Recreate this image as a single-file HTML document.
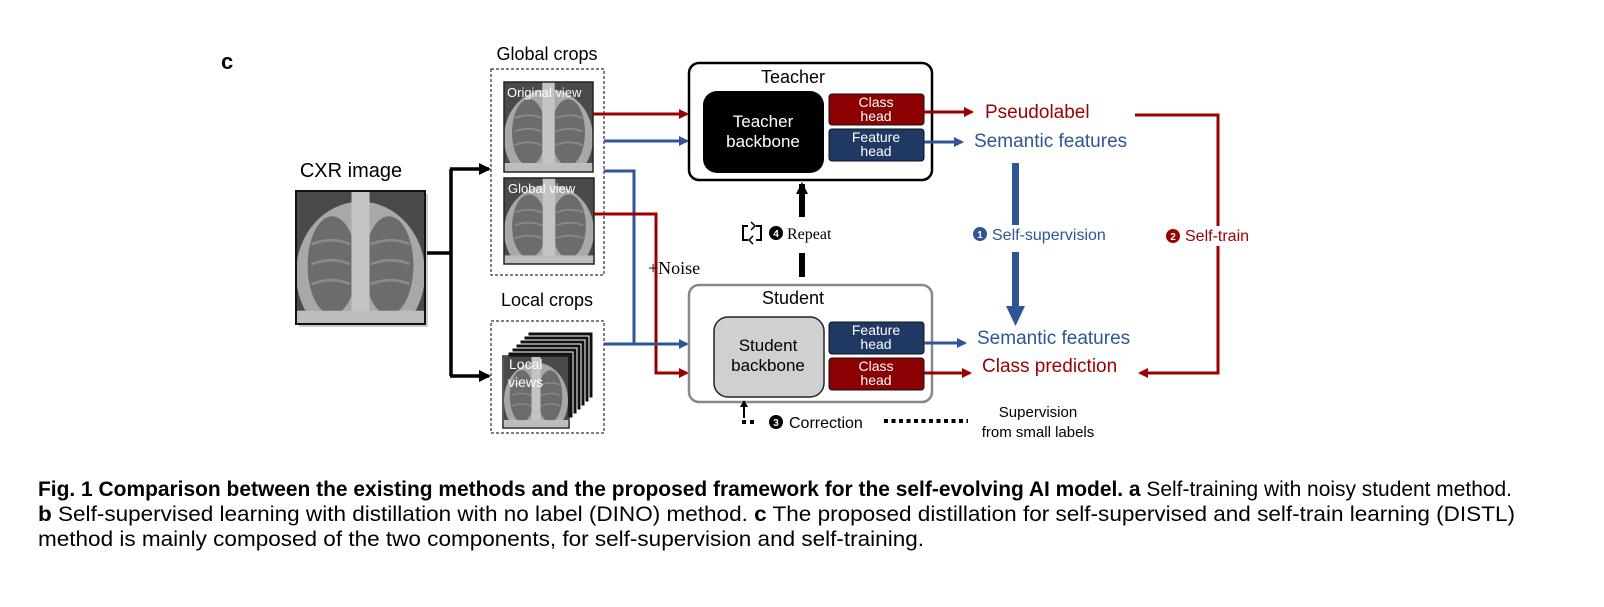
<!DOCTYPE html>
<html><head><meta charset="utf-8"><style>
html,body{margin:0;padding:0;background:#fff;}
svg{display:block;}
text{font-family:"Liberation Sans",sans-serif;}
</style></head><body>
<svg width="1604" height="607" viewBox="0 0 1604 607" xmlns="http://www.w3.org/2000/svg">
<defs>
<symbol id="xr" viewBox="0 0 100 100" preserveAspectRatio="none">
<rect width="100" height="100" fill="#4a4a4a"/>
<ellipse cx="50" cy="62" rx="50" ry="54" fill="#a8a8a8"/>
<ellipse cx="28" cy="56" rx="19" ry="37" fill="#6c6c6c"/>
<ellipse cx="72" cy="56" rx="19" ry="37" fill="#6c6c6c"/>
<g stroke="#8a8a8a" stroke-width="2" fill="none">
<path d="M12,40 q16,-6 30,0 M12,55 q16,-6 30,0 M12,70 q16,-6 30,0 M58,40 q16,-6 30,0 M58,55 q16,-6 30,0 M58,70 q16,-6 30,0"/>
</g>
<rect x="43" y="0" width="14" height="100" fill="#c4c4c4"/>
<rect x="0" y="90" width="100" height="10" fill="#bdbdbd"/>
</symbol>
<marker id="ar" markerWidth="10" markerHeight="10" refX="8" refY="5" orient="auto" markerUnits="userSpaceOnUse"><path d="M0,0 L10,5 L0,10z" fill="#9b0000"/></marker>
<marker id="ab" markerWidth="10" markerHeight="10" refX="8" refY="5" orient="auto" markerUnits="userSpaceOnUse"><path d="M0,0 L10,5 L0,10z" fill="#2f5597"/></marker>
<marker id="ak" markerWidth="12" markerHeight="12" refX="10" refY="6" orient="auto" markerUnits="userSpaceOnUse"><path d="M0,0 L12,6 L0,12z" fill="#000"/></marker>
</defs>

<text x="221" y="69" font-size="22" font-weight="bold">c</text>

<!-- CXR -->
<text x="351" y="177" font-size="20" text-anchor="middle">CXR image</text>
<rect x="299" y="194" width="129" height="133" fill="#ccc"/>
<use href="#xr" x="296" y="191" width="129" height="133"/>
<rect x="296" y="191" width="129" height="133" fill="none" stroke="#111" stroke-width="2"/>

<!-- black connectors -->
<path d="M427,253 H451 M451,169 V376" stroke="#000" stroke-width="3.5" fill="none"/>
<line x1="450" y1="169" x2="489" y2="169" stroke="#000" stroke-width="3.5" marker-end="url(#ak)"/>
<line x1="450" y1="376" x2="489" y2="376" stroke="#000" stroke-width="3.5" marker-end="url(#ak)"/>

<!-- Global crops -->
<text x="547" y="60" font-size="18" text-anchor="middle">Global crops</text>
<rect x="491" y="69" width="113" height="206" fill="none" stroke="#000" stroke-dasharray="3,2"/>
<use href="#xr" x="504" y="82" width="89" height="90"/>
<rect x="504" y="82" width="89" height="90" fill="none" stroke="#222" stroke-width="1.5"/>
<text x="507" y="97" font-size="13" fill="#fff">Original view</text>
<use href="#xr" x="504" y="178" width="90" height="86"/>
<rect x="504" y="178" width="90" height="86" fill="none" stroke="#222" stroke-width="1.5"/>
<text x="508" y="193" font-size="13" fill="#fff">Global view</text>

<!-- Local crops -->
<text x="547" y="306" font-size="18" text-anchor="middle">Local crops</text>
<rect x="491" y="321" width="113" height="112" fill="none" stroke="#000" stroke-dasharray="3,2"/>
<g stroke="#fff" stroke-width="1">
<rect x="528" y="332" width="65" height="66" fill="#111"/>
<rect x="524" y="336" width="65" height="66" fill="#111"/>
<rect x="520" y="340" width="65" height="66" fill="#111"/>
<rect x="516" y="344" width="65" height="66" fill="#111"/>
<rect x="512" y="348" width="65" height="66" fill="#111"/>
<rect x="508" y="352" width="65" height="66" fill="#111"/>
</g>
<use href="#xr" x="504" y="357" width="64" height="70"/>
<rect x="503" y="356" width="66" height="72" fill="none" stroke="#222" stroke-width="1.5"/>
<text x="509" y="369" font-size="14" fill="#fff">Local</text>
<text x="508" y="387" font-size="14" fill="#fff">views</text>

<!-- colored connectors left -->
<line x1="593" y1="114" x2="687" y2="114" stroke="#9b0000" stroke-width="3" marker-end="url(#ar)"/>
<line x1="604" y1="141" x2="687" y2="141" stroke="#2f5597" stroke-width="3" marker-end="url(#ab)"/>
<path d="M604,171 H634 V344" stroke="#2f5597" stroke-width="3" fill="none"/>
<path d="M594,214 H656 V373 H687" stroke="#9b0000" stroke-width="3" fill="none" marker-end="url(#ar)"/>
<line x1="604" y1="344" x2="687" y2="344" stroke="#2f5597" stroke-width="3" marker-end="url(#ab)"/>
<text x="648" y="274" font-size="18" style="font-family:'Liberation Serif',serif">+Noise</text>

<!-- Teacher -->
<rect x="689" y="63" width="243" height="117" rx="10" fill="#fff" stroke="#000" stroke-width="2.5"/>
<text x="793" y="83" font-size="18" text-anchor="middle">Teacher</text>
<rect x="703" y="91" width="121" height="82" rx="14" fill="#000"/>
<text x="763" y="127" font-size="17" fill="#fff" text-anchor="middle">Teacher</text>
<text x="763" y="147" font-size="17" fill="#fff" text-anchor="middle">backbone</text>
<rect x="829" y="94" width="95" height="31" rx="3" fill="#8b0000" stroke="#111"/>
<text x="876" y="107" font-size="14" fill="#fff" text-anchor="middle">Class</text>
<text x="876" y="121" font-size="14" fill="#fff" text-anchor="middle">head</text>
<rect x="829" y="129" width="95" height="32" rx="3" fill="#1f3864" stroke="#111"/>
<text x="876" y="142" font-size="14" fill="#fff" text-anchor="middle">Feature</text>
<text x="876" y="156" font-size="14" fill="#fff" text-anchor="middle">head</text>

<!-- Student -->
<rect x="689" y="285" width="243" height="117" rx="10" fill="#fff" stroke="#888" stroke-width="2.5"/>
<text x="793" y="304" font-size="18" text-anchor="middle">Student</text>
<rect x="714" y="317" width="110" height="80" rx="14" fill="#d0d0d0" stroke="#222" stroke-width="1.5"/>
<text x="768" y="351" font-size="17" text-anchor="middle">Student</text>
<text x="768" y="371" font-size="17" text-anchor="middle">backbone</text>
<rect x="829" y="322" width="95" height="32" rx="3" fill="#1f3864" stroke="#111"/>
<text x="876" y="335" font-size="14" fill="#fff" text-anchor="middle">Feature</text>
<text x="876" y="349" font-size="14" fill="#fff" text-anchor="middle">head</text>
<rect x="829" y="358" width="95" height="32" rx="3" fill="#8b0000" stroke="#111"/>
<text x="876" y="371" font-size="14" fill="#fff" text-anchor="middle">Class</text>
<text x="876" y="385" font-size="14" fill="#fff" text-anchor="middle">head</text>

<!-- right outputs -->
<line x1="924" y1="112" x2="972" y2="112" stroke="#9b0000" stroke-width="3" marker-end="url(#ar)"/>
<text x="985" y="118" font-size="19" fill="#9b0000">Pseudolabel</text>
<line x1="924" y1="142" x2="962" y2="142" stroke="#2f5597" stroke-width="3" marker-end="url(#ab)"/>
<text x="974" y="147" font-size="19" fill="#2f5597">Semantic features</text>
<line x1="924" y1="343" x2="965" y2="343" stroke="#2f5597" stroke-width="3" marker-end="url(#ab)"/>
<text x="977" y="344" font-size="19" fill="#2f5597">Semantic features</text>
<line x1="924" y1="373" x2="970" y2="373" stroke="#9b0000" stroke-width="3" marker-end="url(#ar)"/>
<text x="982" y="372" font-size="19" fill="#9b0000">Class prediction</text>

<!-- self-train loop -->
<path d="M1135,115 H1218 V373 H1140" stroke="#9b0000" stroke-width="3" fill="none" marker-end="url(#ar)"/>
<rect x="1162" y="226" width="95" height="20" fill="#fff"/>
<circle cx="1173" cy="236" r="7" fill="#9b0000"/>
<text x="1173" y="240" font-size="10" fill="#fff" text-anchor="middle" font-weight="bold">2</text>
<text x="1185" y="241" font-size="16" fill="#9b0000">Self-train</text>

<!-- self-supervision -->
<rect x="1012" y="163" width="7" height="62" fill="#2f5597"/>
<rect x="1012" y="252" width="7" height="56" fill="#2f5597"/>
<path d="M1006,306 L1025,306 L1015.5,326z" fill="#2f5597"/>
<circle cx="980" cy="234" r="7" fill="#2f5597"/>
<text x="980" y="238" font-size="10" fill="#fff" text-anchor="middle" font-weight="bold">1</text>
<text x="992" y="240" font-size="16" fill="#2f5597">Self-supervision</text>

<!-- repeat -->
<line x1="802" y1="217" x2="802" y2="184" stroke="#000" stroke-width="6" marker-end="url(#ak)"/>
<rect x="799" y="253" width="6" height="24" fill="#000"/>
<path d="M748,226 h-5 v14 h5 M756,226 h5 v14 h-5" stroke="#000" stroke-width="2" fill="none"/>
<path d="M751,222 l4,4 l-4,4" stroke="#000" stroke-width="1.5" fill="none"/>
<path d="M753,236 l-4,4 l4,4" stroke="#000" stroke-width="1.5" fill="none"/>
<circle cx="776" cy="233" r="7" fill="#000"/>
<text x="776" y="237" font-size="10" fill="#fff" text-anchor="middle" font-weight="bold">4</text>
<text x="787" y="239" font-size="16" style="font-family:'Liberation Serif',serif">Repeat</text>

<!-- correction -->
<line x1="744" y1="418" x2="744" y2="404" stroke="#000" stroke-width="2"/>
<path d="M740,407 L748,407 L744,400z" fill="#000"/>
<rect x="742" y="420" width="4" height="4" fill="#000"/>
<rect x="750" y="420" width="4" height="4" fill="#000"/>
<circle cx="776" cy="422" r="7" fill="#000"/>
<text x="776" y="426" font-size="10" fill="#fff" text-anchor="middle" font-weight="bold">3</text>
<text x="789" y="428" font-size="16">Correction</text>
<line x1="884" y1="421" x2="968" y2="421" stroke="#000" stroke-width="4" stroke-dasharray="4,3.5"/>
<text x="1038" y="417" font-size="15" text-anchor="middle">Supervision</text>
<text x="1038" y="437" font-size="15" text-anchor="middle">from small labels</text>

<!-- caption -->
<text x="38" y="496" font-size="21" textLength="1474" lengthAdjust="spacingAndGlyphs"><tspan font-weight="bold">Fig. 1 Comparison between the existing methods and the proposed framework for the self-evolving AI model. a</tspan> Self-training with noisy student method.</text>
<text x="38" y="521" font-size="21" textLength="1477" lengthAdjust="spacingAndGlyphs"><tspan font-weight="bold">b</tspan> Self-supervised learning with distillation with no label (DINO) method. <tspan font-weight="bold">c</tspan> The proposed distillation for self-supervised and self-train learning (DISTL)</text>
<text x="38" y="546" font-size="21" textLength="886" lengthAdjust="spacingAndGlyphs">method is mainly composed of the two components, for self-supervision and self-training.</text>
</svg>
</body></html>
